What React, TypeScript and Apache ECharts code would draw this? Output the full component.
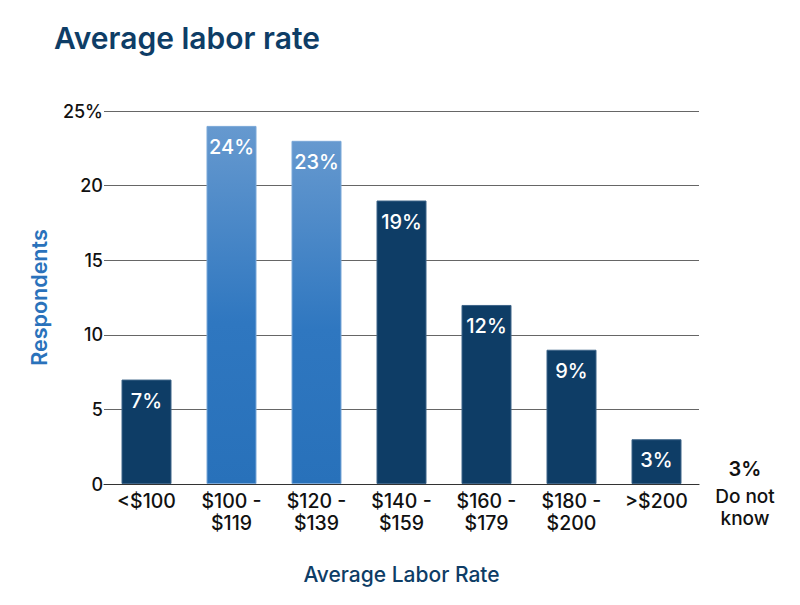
import React, { useEffect, useRef } from "react";
import * as echarts from "echarts";

const categories = ["<$100", "$100 -\n$119", "$120 -\n$139", "$140 -\n$159", "$160 -\n$179", "$180 -\n$200", ">$200"];
const values = [7, 24, 23, 19, 12, 9, 3];
const highlighted = [false, true, true, false, false, false, false];
const yTicks = [0, 5, 10, 15, 20, 25];
const extraValue = "3%";
const extraLabel = ["Do not", "know"];

const FONT = "Inter, 'Noto Sans', sans-serif";
const NAVY = "#0e3d66";

export default function App() {
  const ref = useRef<HTMLDivElement>(null);
  useEffect(() => {
    if (!ref.current) return;
    const chart = echarts.init(ref.current, undefined, { renderer: "svg" });
    const light = new echarts.graphic.LinearGradient(0, 0, 0, 1, [
      { offset: 0, color: "#6699cf" },
      { offset: 0.55, color: "#2f77c0" },
      { offset: 1, color: "#2871ba" },
    ]);
    chart.setOption({
      animation: false,
      textStyle: { fontFamily: FONT },
      title: {
        text: "Average labor rate",
        left: 54,
        top: 23,
        padding: 0,
        textStyle: { fontSize: 30, fontWeight: 600, color: NAVY, fontFamily: FONT },
      },
      grid: { left: 104, right: 101, top: 111, bottom: 121, containLabel: false },
      xAxis: {
        type: "category",
        data: categories,
        name: "Average Labor Rate",
        nameLocation: "middle",
        nameGap: 80,
        nameTextStyle: { fontSize: 21, fontWeight: 500, color: NAVY, fontFamily: FONT },
        axisTick: { show: false },
        axisLine: { lineStyle: { color: "#333", width: 1.2 } },
        axisLabel: { fontSize: 19.5, fontWeight: 500, color: "#111", lineHeight: 22, margin: 6, fontFamily: FONT, interval: 0 },
      },
      yAxis: {
        type: "value",
        min: yTicks[0],
        max: yTicks[yTicks.length - 1],
        interval: 5,
        name: "Respondents",
        nameLocation: "middle",
        nameGap: 54,
        nameRotate: 90,
        nameTextStyle: { fontSize: 21.5, fontWeight: 600, color: "#2a72bb", fontFamily: FONT },
        axisLine: { show: false },
        axisTick: { show: false },
        axisLabel: {
          fontSize: 18,
          fontWeight: 500,
          color: "#111",
          margin: 1,
          fontFamily: FONT,
          formatter: (v: number) => (v === yTicks[yTicks.length - 1] ? v + "%" : String(v)),
        },
        splitLine: { lineStyle: { color: "#666", width: 1 } },
      },
      series: [
        {
          type: "bar",
          barWidth: 50,
          data: values.map((v, i) => ({
            value: v,
            itemStyle: {
              color: highlighted[i] ? light : NAVY,
              borderColor: highlighted[i] ? "#7aa8d8" : "#3d6488",
              borderWidth: 1,
            },
          })),
          label: {
            show: true,
            position: "insideTop",
            distance: 11,
            formatter: "{c}%",
            color: "#fff",
            fontSize: 20,
            fontWeight: 500,
            fontFamily: FONT,
          },
        },
      ],
      graphic: [
        {
          type: "text",
          x: 745,
          y: 469,
          style: { text: extraValue, fill: "#111", align: "center", verticalAlign: "middle", fontSize: 20, fontWeight: 600, fontFamily: FONT },
        },
        {
          type: "text",
          x: 745,
          y: 496,
          style: { text: extraLabel[0], fill: "#111", align: "center", verticalAlign: "middle", fontSize: 19, fontWeight: 500, fontFamily: FONT },
        },
        {
          type: "text",
          x: 745,
          y: 518,
          style: { text: extraLabel[1], fill: "#111", align: "center", verticalAlign: "middle", fontSize: 19, fontWeight: 500, fontFamily: FONT },
        },
      ],
    });
    return () => chart.dispose();
  }, []);
  return <div ref={ref} style={{ position: "absolute", left: 0, top: 0, width: 800, height: 605 }} />;
}
